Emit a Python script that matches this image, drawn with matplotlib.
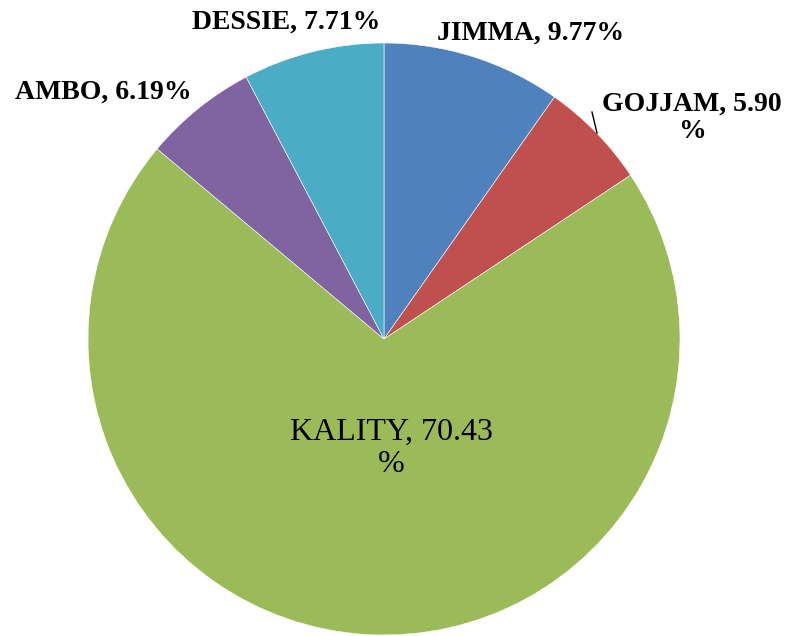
import matplotlib
matplotlib.use("Agg")
import matplotlib.pyplot as plt

labels = ["JIMMA", "GOJJAM", "KALITY", "AMBO", "DESSIE"]
values = [9.77, 5.90, 70.43, 6.19, 7.71]
colors = ["#4F81BD", "#C0504D", "#9BBB59", "#8064A2", "#4BACC6"]

W, H = 793, 636
fig = plt.figure(figsize=(W / 100, H / 100), dpi=100)
ax = fig.add_axes([0, 0, 1, 1])

cx, cy, r = 384, H - 339, 296
ax.pie(values, colors=colors, startangle=90, counterclock=False,
       center=(cx, cy), radius=r, frame=True,
       wedgeprops=dict(edgecolor="white", linewidth=0.4))
ax.set_xlim(0, W)
ax.set_ylim(0, H)
ax.set_aspect("equal")
ax.axis("off")

font = dict(family="Liberation Serif", color="black")
texts = [f"{l}, {v:.2f}%" for l, v in zip(labels, values)]
pos = {
    "JIMMA": (531, 33, texts[0], "bold", 20),
    "GOJJAM": (692, 118, "GOJJAM, 5.90\n%", "bold", 20),
    "KALITY": (391, 448, "KALITY, 70.43\n%", "normal", 23),
    "AMBO": (103, 92, texts[3], "bold", 20),
    "DESSIE": (286, 22, texts[4], "bold", 20),
}
for k, (x, y, t, w, s) in pos.items():
    ax.text(x, H - y, t, ha="center", va="center", linespacing=1.15,
            fontweight=w, fontsize=s, **font)

ax.plot([592, 597], [H - 112, H - 133], color="black", linewidth=1)

fig.savefig("out.png", dpi=100)
